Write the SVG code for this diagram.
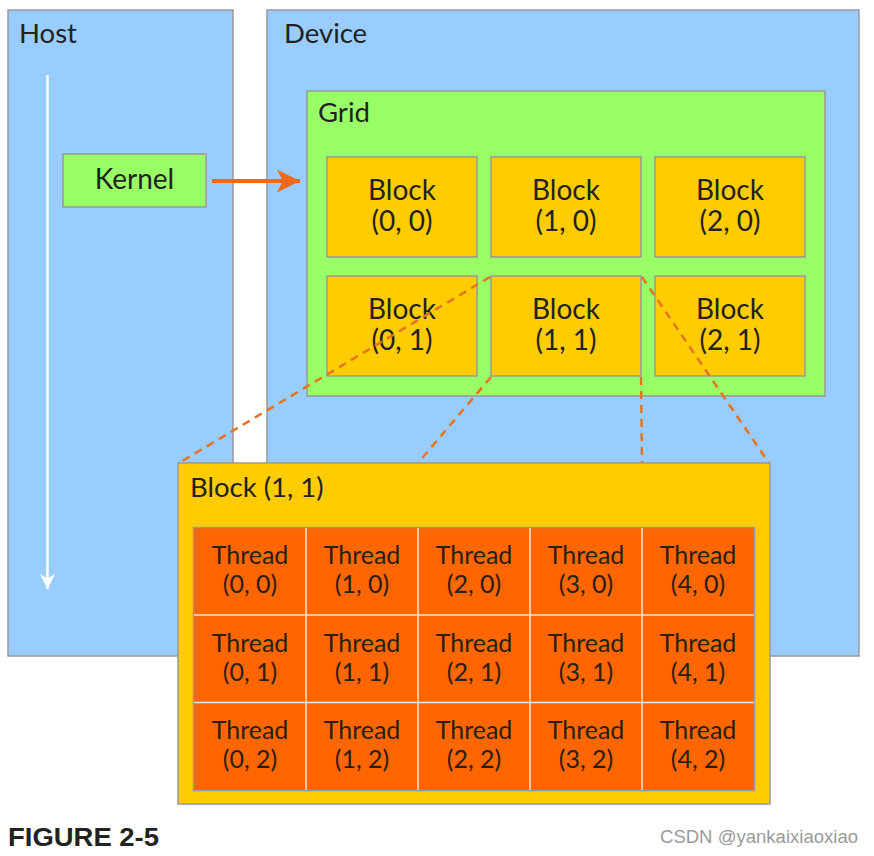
<svg xmlns="http://www.w3.org/2000/svg" width="874" height="856" viewBox="0 0 874 856">
<style>
.box{stroke:#999999;stroke-width:1.5}
.blue{fill:#99ccff}
.green{fill:#99ff66}
.yel{fill:#ffcc00}
.org{fill:#ff6600}
.t{font-family:Lato,"Open Sans","Liberation Sans",sans-serif;fill:#222222}
.title{font-size:27.5px}
.blk{font-size:28px;text-anchor:middle}
.thr{font-size:25px;text-anchor:middle;fill:#2a2010}
.dash{stroke:#e5741f;stroke-width:2.5;stroke-dasharray:8 6;fill:none}
.cell{stroke:#f3e6dc;stroke-width:1.5;fill:none}
</style>
<defs>
<marker id="oarr" viewBox="0 0 10 10" refX="10" refY="5" markerWidth="27" markerHeight="23" markerUnits="userSpaceOnUse" orient="auto">
<path d="M0,0 L10,5 L0,10 L2.5,5 Z" fill="#ee6a1a"/>
</marker>
<marker id="warr" viewBox="0 0 10 10" refX="5" refY="10" markerWidth="15" markerHeight="20" markerUnits="userSpaceOnUse" orient="0">
<path d="M0,0 L5,3 L10,0 L5,10 Z" fill="#ffffff"/>
</marker>
</defs>
<rect width="874" height="856" fill="#ffffff"/>

<g id="host">
<rect class="box blue" x="8" y="10" width="225" height="646"/>
<text class="t title" x="19" y="43">Host</text>
</g>

<g id="device">
<rect class="box blue" x="267" y="10" width="592" height="646"/>
<text class="t title" x="284" y="43">Device</text>
</g>

<g id="kernel">
<rect class="box green" x="63" y="154" width="143" height="53"/>
<text class="t blk" x="134.5" y="189">Kernel</text>
</g>

<g id="grid">
<rect class="box green" x="307" y="91" width="518" height="305"/>
<text class="t title" x="318" y="122">Grid</text>
</g>

<g id="block-0-0"><rect class="box yel" x="327" y="157" width="150" height="100"/><text class="t blk" x="402" y="200">Block</text><text class="t blk" x="402" y="231">(0, 0)</text></g>
<g id="block-1-0"><rect class="box yel" x="491" y="157" width="150" height="100"/><text class="t blk" x="566" y="200">Block</text><text class="t blk" x="566" y="231">(1, 0)</text></g>
<g id="block-2-0"><rect class="box yel" x="655" y="157" width="150" height="100"/><text class="t blk" x="730" y="200">Block</text><text class="t blk" x="730" y="231">(2, 0)</text></g>
<g id="block-0-1"><rect class="box yel" x="327" y="276" width="150" height="100"/><text class="t blk" x="402" y="319">Block</text><text class="t blk" x="402" y="350">(0, 1)</text></g>
<g id="block-1-1"><rect class="box yel" x="491" y="276" width="150" height="100"/><text class="t blk" x="566" y="319">Block</text><text class="t blk" x="566" y="350">(1, 1)</text></g>
<g id="block-2-1"><rect class="box yel" x="655" y="276" width="150" height="100"/><text class="t blk" x="730" y="319">Block</text><text class="t blk" x="730" y="350">(2, 1)</text></g>

<g id="connectors">
<line x1="47.5" y1="75" x2="47.5" y2="589" stroke="#ffffff" stroke-width="2.5" marker-end="url(#warr)"/>
<line x1="212" y1="181" x2="300" y2="181" stroke="#ee6a1a" stroke-width="4" marker-end="url(#oarr)"/>
<line class="dash" x1="490" y1="277" x2="179" y2="463"/>
<line class="dash" x1="491" y1="377" x2="418" y2="463"/>
<line class="dash" x1="641" y1="377" x2="642" y2="463"/>
<line class="dash" x1="642" y1="277" x2="769" y2="463"/>
</g>

<g id="block-detail">
<rect class="box yel" x="178" y="463" width="592" height="341"/>
<text class="t title" x="190" y="497">Block (1, 1)</text>
</g>

<g id="threads">
<rect x="193.5" y="527.5" width="561" height="263" class="org" stroke="#999999" stroke-width="1.5"/>
<path class="cell" d="M306,528V790M418,528V790M530,528V790M642,528V790M194,615H754M194,702.5H754"/>
<g id="thread-0-0"><text class="t thr" x="250" y="564">Thread</text><text class="t thr" x="250" y="593">(0, 0)</text></g>
<g id="thread-1-0"><text class="t thr" x="362" y="564">Thread</text><text class="t thr" x="362" y="593">(1, 0)</text></g>
<g id="thread-2-0"><text class="t thr" x="474" y="564">Thread</text><text class="t thr" x="474" y="593">(2, 0)</text></g>
<g id="thread-3-0"><text class="t thr" x="586" y="564">Thread</text><text class="t thr" x="586" y="593">(3, 0)</text></g>
<g id="thread-4-0"><text class="t thr" x="698" y="564">Thread</text><text class="t thr" x="698" y="593">(4, 0)</text></g>
<g id="thread-0-1"><text class="t thr" x="250" y="652">Thread</text><text class="t thr" x="250" y="681">(0, 1)</text></g>
<g id="thread-1-1"><text class="t thr" x="362" y="652">Thread</text><text class="t thr" x="362" y="681">(1, 1)</text></g>
<g id="thread-2-1"><text class="t thr" x="474" y="652">Thread</text><text class="t thr" x="474" y="681">(2, 1)</text></g>
<g id="thread-3-1"><text class="t thr" x="586" y="652">Thread</text><text class="t thr" x="586" y="681">(3, 1)</text></g>
<g id="thread-4-1"><text class="t thr" x="698" y="652">Thread</text><text class="t thr" x="698" y="681">(4, 1)</text></g>
<g id="thread-0-2"><text class="t thr" x="250" y="739">Thread</text><text class="t thr" x="250" y="768">(0, 2)</text></g>
<g id="thread-1-2"><text class="t thr" x="362" y="739">Thread</text><text class="t thr" x="362" y="768">(1, 2)</text></g>
<g id="thread-2-2"><text class="t thr" x="474" y="739">Thread</text><text class="t thr" x="474" y="768">(2, 2)</text></g>
<g id="thread-3-2"><text class="t thr" x="586" y="739">Thread</text><text class="t thr" x="586" y="768">(3, 2)</text></g>
<g id="thread-4-2"><text class="t thr" x="698" y="739">Thread</text><text class="t thr" x="698" y="768">(4, 2)</text></g>
</g>

<g id="caption">
<text x="8" y="846" font-family="'Liberation Sans',Arial,sans-serif" font-weight="bold" font-size="25" fill="#222222" textLength="151" lengthAdjust="spacingAndGlyphs">FIGURE 2-5</text>
<text x="660" y="843" font-family="'Liberation Sans',Arial,sans-serif" font-size="18" fill="#9a9a9a" textLength="198" lengthAdjust="spacingAndGlyphs">CSDN @yankaixiaoxiao</text>
</g>
</svg>
